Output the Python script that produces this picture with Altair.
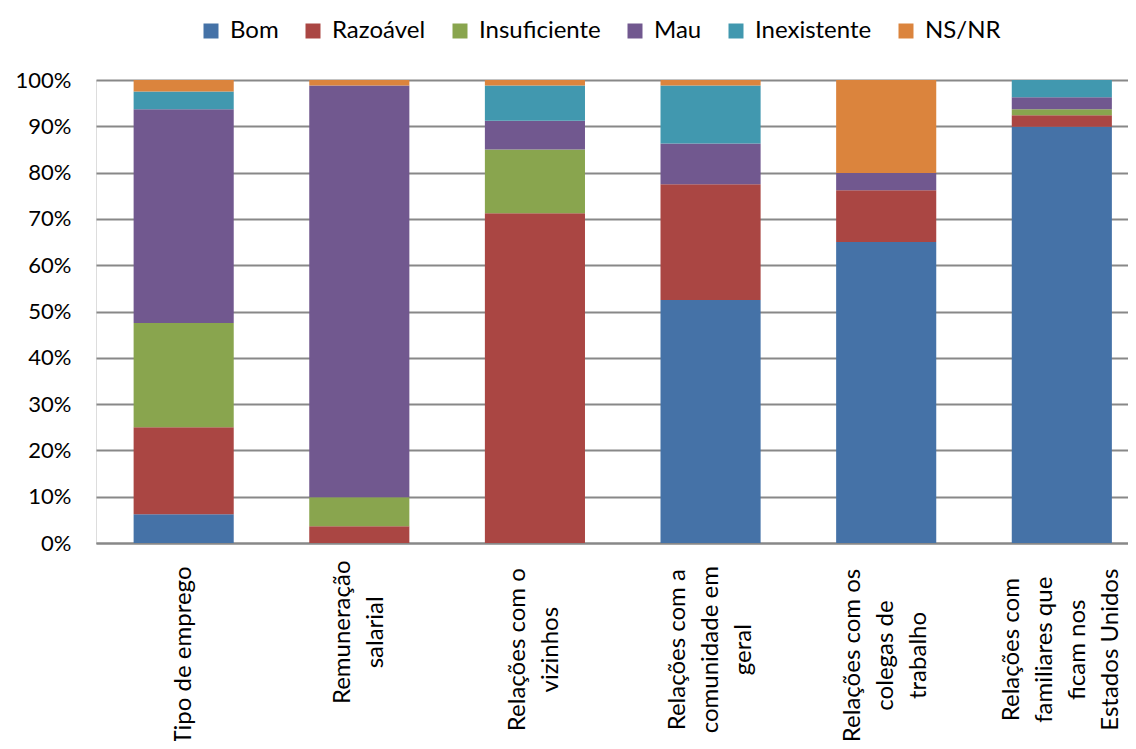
import altair as alt
import pandas as pd

categories = [
    "Tipo de emprego",
    "Remuneração|salarial",
    "Relações com o|vizinhos",
    "Relações com a|comunidade em|geral",
    "Relações com os|colegas de|trabalho",
    "Relações com|familiares que|ficam nos|Estados Unidos",
]
series = ["Bom", "Razoável", "Insuficiente", "Mau", "Inexistente", "NS/NR"]
colors = ["#4572A7", "#AA4643", "#89A54E", "#71588F", "#4198AF", "#DB843D"]

bom = [6.2, 0.0, 0.0, 52.5, 65.0, 89.9]
razoavel = [18.8, 3.6, 71.2, 25.0, 11.2, 2.5]
insuficiente = [22.5, 6.3, 13.8, 0.0, 0.0, 1.3]
mau = [46.2, 88.9, 6.2, 8.8, 3.7, 2.6]
inexistente = [3.8, 0.0, 7.6, 12.5, 0.0, 3.7]
nsnr = [2.5, 1.2, 1.2, 1.2, 20.1, 0.0]

values = [bom, razoavel, insuficiente, mau, inexistente, nsnr]
y_ticks = [i / 10 for i in range(11)]

rows = []
for si, (s, vals) in enumerate(zip(series, values)):
    for c, v in zip(categories, vals):
        if v > 0:
            rows.append({"categoria": c, "serie": s, "ordem": si, "valor": v / 100})
df = pd.DataFrame(rows)

LINE_H = 33
CHAR_W = 11.6  # approximate average glyph width of the label font
parts = "split(datum.value, '|')"
max_len = (
    f"max(length({parts}[0]), length({parts}[1] || ''), "
    f"length({parts}[2] || ''), length({parts}[3] || ''))"
)

chart = (
    alt.Chart(df)
    .mark_bar()
    .encode(
        x=alt.X(
            "categoria:N",
            sort=categories,
            title=None,
            scale=alt.Scale(paddingInner=0.43, paddingOuter=0.153, align=0.7),
            axis=alt.Axis(
                labelAngle=270,
                labelAlign="center",
                labelBaseline="middle",
                labelExpr="split(datum.label, '|')",
                labelOffset={"expr": f"-(length({parts}) - 1) * {LINE_H / 2}"},
                labelPadding={"expr": f"25 + {max_len} * {CHAR_W / 2}"},
                labelFont="Lato",
                labelFontSize=24,
                labelLineHeight=LINE_H,
                labelColor="#000000",
                labelLimit=400,
                labelOverlap=False,
                labelBound=False,
                ticks=False,
                domainColor="#888888",
                domainWidth=2,
                grid=False,
            ),
        ),
        y=alt.Y(
            "valor:Q",
            stack="zero",
            title=None,
            scale=alt.Scale(domain=[0, 1], nice=False),
            axis=alt.Axis(
                values=y_ticks,
                format=".0%",
                labelFont="Lato",
                labelFontSize=22,
                labelColor="#000000",
                labelPadding=25,
                ticks=False,
                domain=False,
                grid=True,
                gridColor="#888888",
                gridWidth=2,
            ),
        ),
        color=alt.Color(
            "serie:N",
            sort=series,
            scale=alt.Scale(domain=series, range=colors),
            legend=alt.Legend(
                title=None,
                orient="none",
                direction="horizontal",
                legendX=103,
                legendY=-61,
                symbolType="square",
                symbolSize=225,
                symbolStrokeWidth=0,
                labelFont="Lato",
                labelFontSize=24,
                labelColor="#000000",
                labelOffset=7,
                columnPadding=22,
                labelLimit=300,
            ),
        ),
        order=alt.Order("ordem:Q", sort="ascending"),
    )
    .properties(
        width=1032,
        height=463,
        autosize=alt.AutoSizeParams(type="none"),
        padding={"left": 88, "top": 72, "right": 0, "bottom": 198},
    )
    .configure_view(stroke=None)
    .configure(background="#ffffff")
)

chart.save("out.html", embed_options={"renderer": "svg", "actions": False})
